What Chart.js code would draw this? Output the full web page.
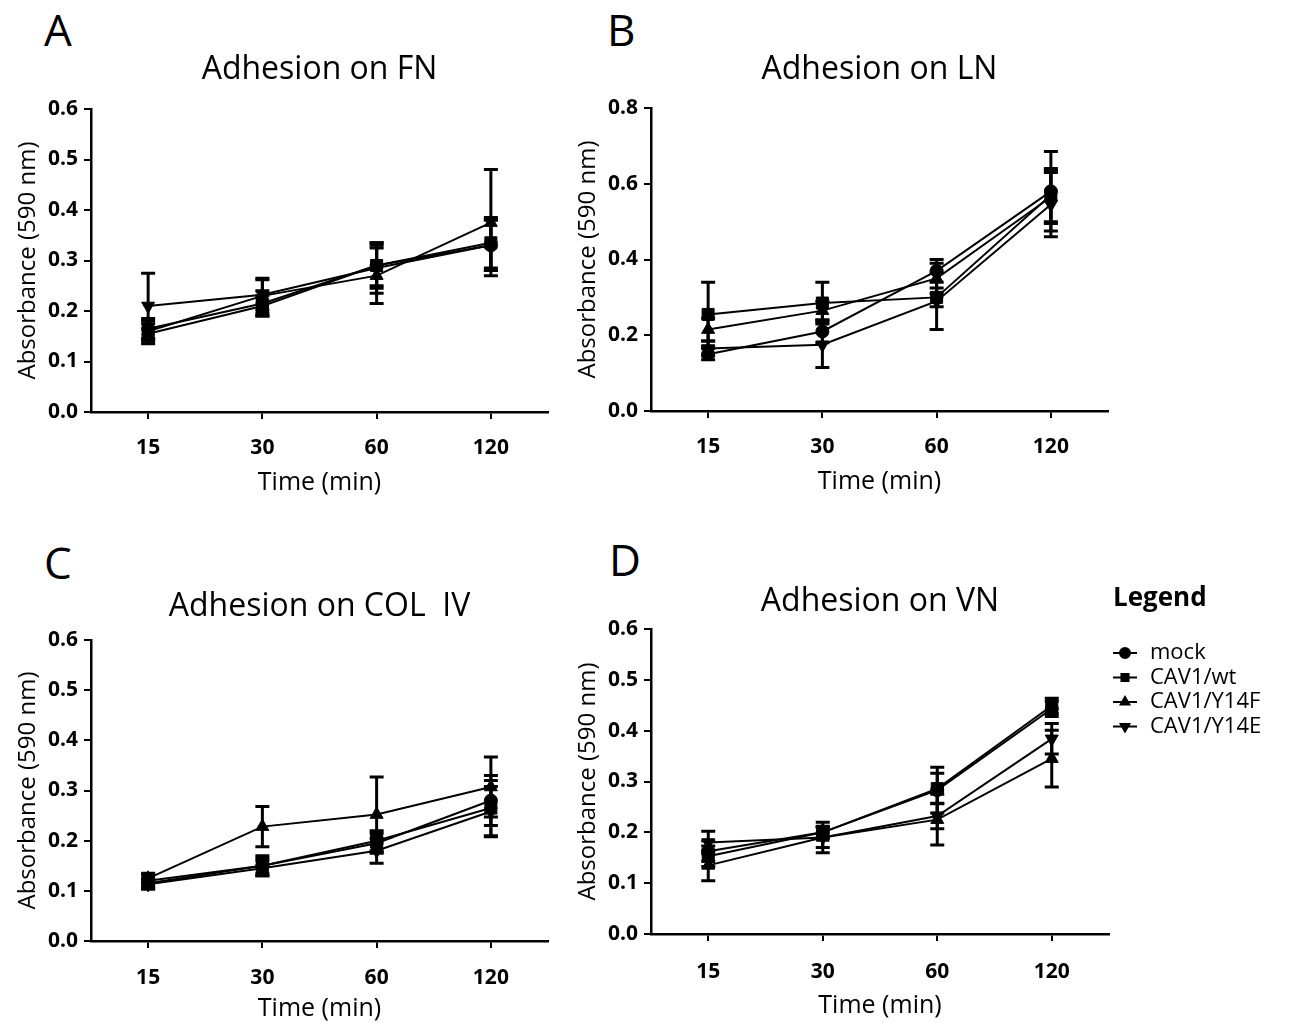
<!DOCTYPE html>
<html><head><meta charset="utf-8">
<script src="https://cdn.jsdelivr.net/npm/chart.js@4.4.0/dist/chart.umd.min.js"></script>
<style>
html,body{margin:0;padding:0;background:#fff;}
body{width:1290px;height:1023px;overflow:hidden;position:relative;}
.pl{position:absolute;font-family:'Open Sans';font-size:44px;line-height:44px;color:#000;}
canvas{position:absolute;}
</style></head><body>
<div class="pl" style="left:44px;top:7px">A</div>
<div class="pl" style="left:607px;top:7px">B</div>
<div class="pl" style="left:44px;top:540px">C</div>
<div class="pl" style="left:609px;top:537px">D</div>
<canvas id="cA" width="560" height="520" style="left:0;top:0"></canvas>
<canvas id="cB" width="570" height="520" style="left:560px;top:0"></canvas>
<canvas id="cC" width="560" height="503" style="left:0;top:520px"></canvas>
<canvas id="cD" width="730" height="503" style="left:560px;top:520px"></canvas>
<script>
// ---- data ----
const categories = ['15', '30', '60', '120'];
const seriesNames = ['mock', 'CAV1/wt', 'CAV1/Y14F', 'CAV1/Y14E'];
const yTicks06 = ['0.0', '0.1', '0.2', '0.3', '0.4', '0.5', '0.6'];
const yTicks08 = ['0.0', '0.2', '0.4', '0.6', '0.8'];

// Adhesion on FN
const fnMock = [0.165, 0.215, 0.29, 0.33];
const fnMockErr = [0.02, 0.025, 0.045, 0.05];
const fnWt = [0.155, 0.21, 0.29, 0.335];
const fnWtErr = [0.02, 0.02, 0.04, 0.05];
const fnY14F = [0.16, 0.23, 0.27, 0.375];
const fnY14FErr = [0.02, 0.035, 0.055, 0.105];
const fnY14E = [0.21, 0.232, 0.285, 0.33];
const fnY14EErr = [0.065, 0.03, 0.05, 0.05];

// Adhesion on LN
const lnMock = [0.15, 0.21, 0.37, 0.58];
const lnMockErr = [0.015, 0.03, 0.03, 0.105];
const lnWt = [0.255, 0.285, 0.30, 0.57];
const lnWtErr = [0.085, 0.055, 0.025, 0.07];
const lnY14F = [0.215, 0.265, 0.35, 0.565];
const lnY14FErr = [0.03, 0.025, 0.04, 0.07];
const lnY14E = [0.165, 0.175, 0.29, 0.545];
const lnY14EErr = [0.02, 0.06, 0.075, 0.085];

// Adhesion on COL IV
const colMock = [0.115, 0.15, 0.195, 0.28];
const colMockErr = [0.01, 0.015, 0.02, 0.05];
const colWt = [0.12, 0.15, 0.2, 0.265];
const colWtErr = [0.012, 0.02, 0.02, 0.055];
const colY14F = [0.125, 0.228, 0.252, 0.307];
const colY14FErr = [0.01, 0.04, 0.075, 0.06];
const colY14E = [0.113, 0.145, 0.18, 0.258];
const colY14EErr = [0.01, 0.015, 0.025, 0.05];

// Adhesion on VN
const vnMock = [0.163, 0.2, 0.283, 0.443];
const vnMockErr = [0.02, 0.01, 0.045, 0.015];
const vnWt = [0.153, 0.2, 0.286, 0.449];
const vnWtErr = [0.02, 0.012, 0.03, 0.015];
const vnY14F = [0.135, 0.19, 0.225, 0.345];
const vnY14FErr = [0.03, 0.03, 0.05, 0.056];
const vnY14E = [0.18, 0.19, 0.232, 0.384];
const vnY14EErr = [0.022, 0.02, 0.025, 0.03];

// ---- styles ----
const markerStyles = [
  {ps: 'circle', rot: 0, r: 6.5},
  {ps: 'rect', rot: 0, r: 8.5},
  {ps: 'triangle', rot: 0, r: 7.5},
  {ps: 'triangle', rot: 180, r: 7.5}
];
const FONT = "'Open Sans'";

const errorBarPlugin = {
  id: 'errorBars',
  afterDatasetsDraw(chart) {
    const ctx = chart.ctx, ys = chart.scales.y;
    chart.data.datasets.forEach((ds, i) => {
      if (!ds.errors) return;
      const meta = chart.getDatasetMeta(i);
      ctx.save();
      ctx.strokeStyle = '#000';
      ctx.lineWidth = 3;
      meta.data.forEach((pt, j) => {
        const v = ds.data[j], e = ds.errors[j];
        const x = pt.x;
        const y1 = ys.getPixelForValue(v + e), y2 = ys.getPixelForValue(v - e);
        ctx.beginPath();
        ctx.moveTo(x, y1); ctx.lineTo(x, y2);
        ctx.moveTo(x - 7, y1); ctx.lineTo(x + 7, y1);
        ctx.moveTo(x - 7, y2); ctx.lineTo(x + 7, y2);
        ctx.stroke();
      });
      ctx.restore();
    });
  }
};

const sideLegendPlugin = {
  id: 'sideLegend',
  afterDraw(chart, args, opts) {
    if (!opts || !opts.show) return;
    const ctx = chart.ctx;
    ctx.save();
    ctx.fillStyle = '#000';
    ctx.strokeStyle = '#000';
    ctx.textBaseline = 'middle';
    ctx.textAlign = 'left';
    ctx.font = 'bold 26px ' + FONT;
    ctx.fillText(opts.title, opts.x, opts.titleY);
    ctx.font = '22px ' + FONT;
    chart.data.datasets.forEach((ds, i) => {
      const y = opts.y0 + i * opts.dy;
      ctx.lineWidth = 2;
      ctx.beginPath(); ctx.moveTo(opts.x, y); ctx.lineTo(opts.x + 24, y); ctx.stroke();
      ctx.fillStyle = '#000';
      Chart.helpers.drawPoint(ctx, {pointStyle: ds.pointStyle, rotation: ds.pointRotation || 0, radius: 5, borderWidth: 1}, opts.x + 12, y);
      ctx.fillStyle = '#000';
      ctx.fillText(ds.label, opts.x + 37, y);
    });
    ctx.restore();
  }
};

function makeChart(id, cfg) {
  const datasets = cfg.series.map((s, i) => ({
    label: seriesNames[i],
    data: s[0],
    errors: s[1],
    borderColor: '#000',
    backgroundColor: '#000',
    borderWidth: 2,
    pointStyle: markerStyles[i].ps,
    pointRotation: markerStyles[i].rot,
    pointRadius: markerStyles[i].r,
    pointBorderWidth: 1,
    tension: 0,
    fill: false
  }));
  return new Chart(document.getElementById(id), {
    type: 'line',
    data: {labels: categories, datasets},
    options: {
      responsive: false,
      animation: false,
      events: [],
      layout: {padding: cfg.pad},
      plugins: {
        legend: {display: false},
        tooltip: {enabled: false},
        title: {
          display: true, text: cfg.title, fullSize: false, color: '#000',
          font: {family: FONT, size: 32, weight: 'normal', lineHeight: 1.2},
          padding: {top: cfg.tpt, bottom: cfg.tpb}
        },
        sideLegend: cfg.legend || {show: false}
      },
      scales: {
        x: {
          type: 'category', offset: true,
          grid: {display: true, drawOnChartArea: false, drawTicks: true, tickLength: 7, color: '#000', lineWidth: 2},
          border: {display: true, color: '#000', width: 2.5},
          ticks: {color: '#000', font: {family: FONT, size: 21, weight: 'bold', lineHeight: 1.2}, padding: cfg.xpad, maxRotation: 0},
          title: {display: true, text: 'Time (min)', color: '#000', font: {family: FONT, size: 25, weight: 'normal', lineHeight: 1}, padding: {top: 0, bottom: 0}},
          afterFit: (s) => { s.height = cfg.hx; }
        },
        y: {
          min: 0, max: cfg.ymax,
          ticks: {stepSize: cfg.step, callback: (v, i) => cfg.yt[i], color: '#000', font: {family: FONT, size: 21, weight: 'bold', lineHeight: 1.2}, padding: 6},
          grid: {display: true, drawOnChartArea: false, drawTicks: true, tickLength: 7, color: '#000', lineWidth: 2},
          border: {display: true, color: '#000', width: 2.5},
          title: {display: true, text: 'Absorbance (590 nm)', color: '#000', font: {family: FONT, size: 24, weight: 'normal', lineHeight: 1.2}, padding: {top: 14, bottom: 0}},
          afterFit: (s) => { s.width = 91; }
        }
      }
    },
    plugins: [errorBarPlugin, sideLegendPlugin]
  });
}

makeChart('cA', {
  title: 'Adhesion on FN', ymax: 0.6, step: 0.1, yt: yTicks06,
  pad: {left: 0, right: 12, top: 0, bottom: 24.5}, tpt: 50.3, tpb: 20.3, xpad: 16, hx: 83.5,
  series: [[fnMock, fnMockErr], [fnWt, fnWtErr], [fnY14F, fnY14FErr], [fnY14E, fnY14EErr]]
});
makeChart('cB', {
  title: 'Adhesion on LN', ymax: 0.8, step: 0.2, yt: yTicks08,
  pad: {left: 0, right: 22, top: 0, bottom: 25.5}, tpt: 50.3, tpb: 19.3, xpad: 16, hx: 83.5,
  series: [[lnMock, lnMockErr], [lnWt, lnWtErr], [lnY14F, lnY14FErr], [lnY14E, lnY14EErr]]
});
makeChart('cC', {
  title: 'Adhesion on COL  IV', ymax: 0.6, step: 0.1, yt: yTicks06,
  pad: {left: 0, right: 12, top: 0, bottom: 1.5}, tpt: 67.8, tpb: 13.8, xpad: 17, hx: 80.5,
  series: [[colMock, colMockErr], [colWt, colWtErr], [colY14F, colY14FErr], [colY14E, colY14EErr]]
});
makeChart('cD', {
  title: 'Adhesion on VN', ymax: 0.6, step: 0.1, yt: yTicks06,
  pad: {left: 0, right: 181, top: 0, bottom: 4.5}, tpt: 62.8, tpb: 7.8, xpad: 18, hx: 84.5,
  series: [[vnMock, vnMockErr], [vnWt, vnWtErr], [vnY14F, vnY14FErr], [vnY14E, vnY14EErr]],
  legend: {show: true, title: 'Legend', x: 553, titleY: 79, y0: 133, dy: 24.5}
});
</script>
</body></html>
